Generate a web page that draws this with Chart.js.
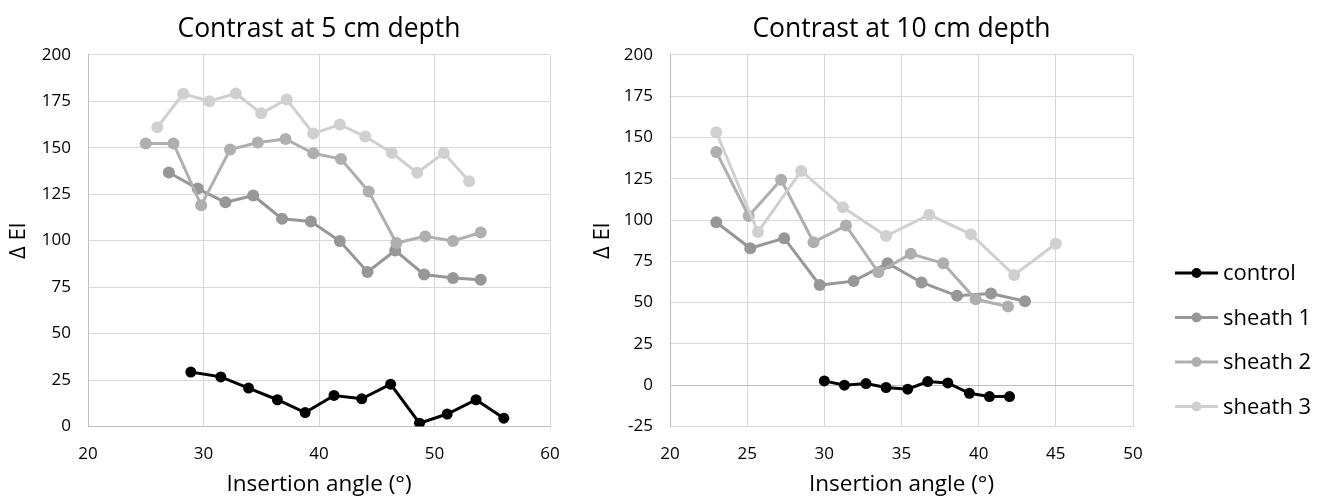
<!DOCTYPE html>
<html>
<head>
<meta charset="utf-8">
<script src="https://cdn.jsdelivr.net/npm/chart.js@4"></script>
<style>
  body { margin: 0; background: #fff; width: 1325px; height: 501px; overflow: hidden; position: relative; }
  .box { position: absolute; top: 0; height: 501px; }
  #left { left: 0; width: 584px; }
  #right { left: 584px; width: 741px; }
</style>
</head>
<body>
<div class="box" id="left"><canvas id="chart5"></canvas></div>
<div class="box" id="right"><canvas id="chart10"></canvas></div>
<script>
// Серии и цвета
const seriesNames = ['control', 'sheath 1', 'sheath 2', 'sheath 3'];
const seriesColors = ['#000000', '#979797', '#afafaf', '#d0d0d0'];

// Глубина 5 см
const control5X = [28.9, 31.5, 33.9, 36.4, 38.8, 41.3, 43.7, 46.2, 48.7, 51.1, 53.6, 56.0];
const control5Y = [29.3, 26.7, 20.7, 14.4, 7.5, 16.7, 14.9, 22.8, 1.8, 6.7, 14.4, 4.5];
const sheath1_5X = [27.0, 29.5, 31.9, 34.3, 36.8, 39.3, 41.8, 44.2, 46.6, 49.1, 51.6, 54.0];
const sheath1_5Y = [136.7, 128, 120.6, 124.3, 111.8, 110.3, 99.8, 83.1, 94.7, 81.8, 79.9, 79];
const sheath2_5X = [25.0, 27.4, 29.8, 32.3, 34.7, 37.1, 39.5, 41.9, 44.3, 46.7, 49.2, 51.6, 54.0];
const sheath2_5Y = [152.3, 152.3, 119, 149, 152.8, 154.7, 147, 143.9, 126.5, 98.7, 102.3, 99.8, 104.4];
const sheath3_5X = [26.0, 28.25, 30.5, 32.8, 35.0, 37.2, 39.5, 41.8, 44.0, 46.3, 48.5, 50.8, 53.0];
const sheath3_5Y = [161, 179, 175, 179.2, 168.5, 176, 157.7, 162.5, 156, 147.3, 136.5, 147.1, 132];

// Глубина 10 см
const control10X = [30.0, 31.3, 32.7, 34.0, 35.4, 36.7, 38.0, 39.4, 40.7, 42.0];
const control10Y = [2.6, 0, 1.0, -1.4, -2.4, 2.2, 1.4, -4.9, -6.9, -6.9];
const sheath1_10X = [23.0, 25.2, 27.4, 29.7, 31.9, 34.1, 36.3, 38.6, 40.8, 43.0];
const sheath1_10Y = [98.6, 82.9, 89.0, 60.6, 63.0, 73.8, 62.2, 54.1, 55.5, 50.8];
const sheath2_10X = [23.0, 25.1, 27.2, 29.3, 31.4, 33.5, 35.6, 37.7, 39.8, 41.9];
const sheath2_10Y = [141.2, 102.4, 124.4, 86.6, 96.6, 68.3, 79.5, 73.8, 52.0, 47.6];
const sheath3_10X = [23.0, 25.7, 28.5, 31.2, 34.0, 36.8, 39.5, 42.3, 45.0];
const sheath3_10Y = [153.1, 92.7, 129.7, 107.7, 90.3, 103.2, 91.3, 66.7, 85.6];

// Подписи осей
const xTicks5 = [20, 30, 40, 50, 60];
const yTicks5 = [0, 25, 50, 75, 100, 125, 150, 175, 200];
const xTicks10 = [20, 25, 30, 35, 40, 45, 50];
const yTicks10 = [-25, 0, 25, 50, 75, 100, 125, 150, 175, 200];

const FONT = "'Open Sans', sans-serif";
const GRID = '#d9d9d9';
const AXIS = '#bfbfbf';

function pts(xs, ys) {
    return xs.map((x, i) => ({ x: x, y: ys[i] }));
}

function makeDatasets(sets) {
    return sets.map((s, i) => ({
        label: seriesNames[i],
        data: pts(s[0], s[1]),
        borderColor: seriesColors[i],
        backgroundColor: seriesColors[i],
        pointBackgroundColor: seriesColors[i],
        pointBorderColor: seriesColors[i],
        pointBorderWidth: 0,
        pointRadius: i === 0 ? 5.5 : 6,
        borderWidth: 3,
        showLine: true,
        order: 3 - i
    }));
}

function fixTicks(list) {
    return scale => { scale.ticks = list.map(v => ({ value: v })); };
}

function makeOptions(title, xTicks, yTicks, yWidth, padRight, zeroDark) {
    return {
        responsive: true,
        maintainAspectRatio: false,
        animation: false,
        layout: { padding: { left: 0, right: padRight, top: 0, bottom: 0 } },
        plugins: {
            legend: { display: false },
            tooltip: { enabled: false },
            title: {
                display: true,
                text: title,
                fullSize: false,
                color: '#000',
                font: { family: FONT, size: 26.5, weight: 'normal' },
                padding: { top: 14, bottom: 9 }
            }
        },
        scales: {
            x: {
                type: 'linear',
                min: xTicks[0],
                max: xTicks[xTicks.length - 1],
                afterBuildTicks: fixTicks(xTicks),
                afterFit: s => { s.height = 74.5; },
                grid: { color: GRID, drawTicks: false },
                border: { color: zeroDark ? GRID : AXIS, width: 1 },
                ticks: { color: '#000', padding: 17, font: { family: FONT, size: 17 } },
                title: {
                    display: true,
                    text: 'Insertion angle (°)',
                    color: '#000',
                    font: { family: FONT, size: 22.5 },
                    padding: { top: 0, bottom: 3 }
                }
            },
            y: {
                min: yTicks[0],
                max: yTicks[yTicks.length - 1],
                afterBuildTicks: fixTicks(yTicks),
                afterFit: s => { s.width = yWidth; },
                grid: {
                    color: c => (zeroDark && c.tick && c.tick.value === 0) ? AXIS : GRID,
                    drawTicks: false
                },
                border: { color: AXIS, width: 1 },
                ticks: { color: '#000', padding: 17, font: { family: FONT, size: 17 } },
                title: {
                    display: true,
                    text: 'Δ EI',
                    color: '#000',
                    font: { family: FONT, size: 22 },
                    padding: { top: 6, bottom: 0 }
                }
            }
        }
    };
}

// Легенда справа
const sideLegend = {
    id: 'sideLegend',
    afterDraw(chart) {
        const ctx = chart.ctx;
        const x0 = chart.chartArea.right + 42;
        ctx.save();
        seriesNames.forEach((name, i) => {
            const y = 273 + i * 44.5;
            ctx.strokeStyle = seriesColors[i];
            ctx.fillStyle = seriesColors[i];
            ctx.lineWidth = 3;
            ctx.beginPath();
            ctx.moveTo(x0, y);
            ctx.lineTo(x0 + 43, y);
            ctx.stroke();
            ctx.beginPath();
            ctx.arc(x0 + 21.5, y, 5, 0, Math.PI * 2);
            ctx.fill();
            ctx.fillStyle = '#000';
            ctx.font = '22px ' + FONT;
            ctx.textBaseline = 'middle';
            ctx.textAlign = 'left';
            ctx.fillText(name, x0 + 48, y + 1);
        });
        ctx.restore();
    }
};

new Chart(document.getElementById('chart5'), {
    type: 'scatter',
    data: {
        datasets: makeDatasets([
            [control5X, control5Y],
            [sheath1_5X, sheath1_5Y],
            [sheath2_5X, sheath2_5Y],
            [sheath3_5X, sheath3_5Y]
        ])
    },
    options: makeOptions('Contrast at 5 cm depth', xTicks5, yTicks5, 88, 34, false)
});

new Chart(document.getElementById('chart10'), {
    type: 'scatter',
    data: {
        datasets: makeDatasets([
            [control10X, control10Y],
            [sheath1_10X, sheath1_10Y],
            [sheath2_10X, sheath2_10Y],
            [sheath3_10X, sheath3_10Y]
        ])
    },
    options: makeOptions('Contrast at 10 cm depth', xTicks10, yTicks10, 86, 192, true),
    plugins: [sideLegend]
});
</script>
</body>
</html>
